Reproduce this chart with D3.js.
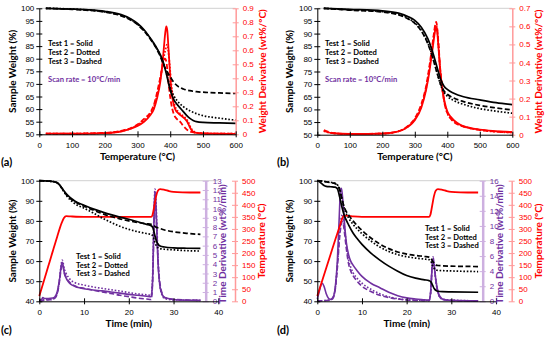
<!DOCTYPE html>
<html><head><meta charset="utf-8">
<script src="https://cdn.jsdelivr.net/npm/d3@7"></script>
<style>body{margin:0;background:#fff}svg{display:block;font-family:Lato,"Open Sans",sans-serif}</style>
</head><body><svg id="c" width="550" height="337"></svg>
<script>
// ---------- DATA ----------
// Panel (a): temperature (°C) vs weight (%) and derivative (wt%/°C)
const aSolidW=[[20,100],[100,99.7],[150,99.4],[200,98.8],[250,97.5],[280,95.8],[300,94],[320,91.5],[340,88],[360,84],[370,81.5],[380,78],[390,73],[400,67.5],[410,64],[420,62],[430,60.5],[440,59],[450,57.5],[460,56.3],[470,55.5],[480,55],[500,54.7],[550,54.5],[600,54.3]];
const aDotW=[[20,100],[100,99.7],[150,99.3],[200,98.6],[250,97.2],[280,95.5],[300,93.7],[320,91.2],[340,87.8],[360,83.8],[370,81.2],[380,77.8],[390,73.5],[400,68.5],[410,65.5],[420,63.5],[440,61],[460,59.3],[480,58.2],[500,57.4],[550,56.4],[600,55.6]];
const aDashW=[[20,100],[100,99.6],[150,99.2],[200,98.5],[250,97],[280,95.3],[300,93.5],[320,91],[340,87.6],[360,83.5],[370,80.8],[380,77.5],[390,75],[400,72.8],[410,70.8],[420,69.4],[440,68],[460,67.3],[480,66.9],[500,66.7],[550,66.4],[600,66.2]];
const aSolidD=[[20,0.005],[100,0.004],[200,0.008],[250,0.02],[280,0.04],[300,0.06],[320,0.09],[340,0.14],[350,0.18],[360,0.26],[370,0.38],[376,0.5],[381,0.63],[385,0.73],[388,0.77],[391,0.74],[395,0.6],[399,0.45],[403,0.33],[408,0.24],[415,0.18],[425,0.15],[435,0.13],[445,0.11],[452,0.09],[458,0.06],[465,0.03],[475,0.012],[500,0.006],[550,0.004],[600,0.003]];
const aDotD=[[20,0.005],[100,0.005],[200,0.009],[250,0.022],[300,0.065],[320,0.1],[340,0.15],[350,0.2],[360,0.28],[370,0.4],[378,0.52],[385,0.6],[390,0.64],[394,0.6],[398,0.5],[403,0.37],[408,0.27],[415,0.2],[425,0.16],[435,0.14],[445,0.12],[455,0.09],[462,0.05],[470,0.025],[480,0.012],[500,0.007],[600,0.004]];
const aDashD=[[20,0.005],[100,0.005],[200,0.01],[250,0.025],[300,0.07],[320,0.11],[340,0.16],[350,0.21],[360,0.3],[370,0.41],[378,0.5],[384,0.54],[388,0.52],[392,0.44],[397,0.32],[403,0.22],[410,0.15],[420,0.11],[430,0.09],[440,0.06],[450,0.035],[460,0.02],[480,0.01],[500,0.006],[600,0.004]];
// Panel (b)
const bSolidW=[[20,100],[100,99.6],[200,99],[250,98.1],[280,96.7],[300,95.2],[320,92.5],[340,88],[350,84.7],[360,80.5],[370,76],[380,71.8],[390,69.2],[400,67.9],[420,66.4],[450,65],[500,63.8],[550,62.7],[600,61.9]];
const bDotW=[[20,100],[100,99.4],[200,98.7],[250,97.6],[280,96],[300,94.3],[320,91.3],[340,86.3],[350,82.8],[360,78.5],[370,73.8],[380,69.5],[390,66.7],[400,65.2],[420,63.5],[450,62],[500,60.3],[550,59.3],[600,58.5]];
const bDashW=[[20,100],[100,99.3],[200,98.5],[250,97.4],[280,95.8],[300,94],[320,91],[340,86],[350,82.5],[360,78.3],[370,73.8],[380,69.8],[390,67.3],[400,66],[420,64.5],[450,63.1],[500,61.6],[550,60.6],[600,59.8]];
const bSolidD=[[20,0.022],[30,0.015],[50,0.008],[100,0.004],[150,0.004],[200,0.006],[250,0.018],[280,0.045],[300,0.08],[320,0.15],[335,0.25],[345,0.35],[352,0.44],[358,0.52],[363,0.58],[366,0.595],[369,0.57],[373,0.48],[378,0.36],[385,0.25],[392,0.18],[400,0.13],[410,0.1],[420,0.08],[440,0.055],[460,0.042],[500,0.028],[550,0.02],[600,0.015]];
const bDotD=[[20,0.02],[30,0.014],[50,0.008],[100,0.004],[200,0.006],[250,0.019],[280,0.047],[300,0.085],[320,0.16],[335,0.26],[345,0.37],[352,0.46],[358,0.54],[363,0.595],[366,0.605],[369,0.58],[373,0.49],[378,0.36],[385,0.25],[392,0.17],[400,0.12],[410,0.09],[420,0.075],[440,0.052],[460,0.04],[500,0.026],[600,0.012]];
const bDashD=[[20,0.025],[30,0.018],[50,0.009],[100,0.004],[200,0.007],[250,0.02],[280,0.05],[300,0.09],[320,0.17],[335,0.27],[345,0.38],[352,0.47],[358,0.55],[363,0.61],[366,0.625],[369,0.59],[373,0.5],[378,0.37],[385,0.25],[392,0.17],[400,0.12],[410,0.09],[420,0.07],[440,0.05],[460,0.04],[500,0.026],[600,0.013]];
// Panel (c): time (min)
const cTemp=[[0,22],[1,83],[2,145],[3,207],[4,268],[5,325],[5.5,345],[6,353],[7,352],[10,350],[20,350],[25,350],[25.3,358],[25.7,395],[26.1,435],[26.5,458],[27,465],[28,462],[29,457],[30,454],[32,452],[36,451]];
const cSolidW=[[0,100],[2,99.8],[3,99.6],[4,99],[4.5,98],[5,96.5],[5.5,95],[6,93.6],[6.5,92.4],[7,91.4],[8,89.8],[10,87.8],[12,86],[14,84.5],[16,83.1],[18,81.9],[20,80.8],[22,79.6],[24,78.3],[25,77.6],[25.4,76.5],[25.8,73],[26.2,69.8],[26.6,68.2],[27,67.5],[28,67],[30,66.6],[33,66.4],[36,66.3]];
const cDotW=[[0,100],[2,99.8],[3,99.6],[4,99],[4.5,98],[5,96.3],[5.5,94.5],[6,92.8],[7,90.3],[8,88.5],[10,86.3],[12,84],[14,81.5],[16,79.3],[18,77.3],[20,75.8],[22,74.6],[24,73.7],[25,73.3],[25.4,72.3],[25.8,69.5],[26.2,67.3],[26.6,66.5],[27,66.2],[28,65.9],[30,65.6],[33,65.2],[36,65]];
const cDashW=[[0,100],[2,99.8],[3,99.6],[4,99],[4.5,98],[5,96.4],[5.5,94.8],[6,93.2],[7,91],[8,89.5],[10,87.3],[12,85.4],[14,83.7],[16,82.2],[18,81],[20,80],[22,79.2],[24,78.6],[25,78.3],[25.5,77.8],[26,77],[27,76.2],[28,75.5],[30,74.6],[33,73.8],[36,73.3]];
const cSolidP=[[0,0.1],[0.5,0.2],[0.8,0.4],[1.2,0.3],[2,0.3],[3,0.35],[3.5,0.5],[4,1],[4.5,2.3],[4.9,3.8],[5.1,4.2],[5.3,3.9],[5.6,3],[6,2.5],[6.5,2.1],[7,1.85],[8,1.6],[9,1.45],[10,1.35],[12,1.22],[14,1.12],[16,1.0],[18,0.88],[20,0.75],[22,0.65],[24,0.55],[25,0.5],[25.3,2],[25.6,8],[25.8,11.8],[26,11],[26.3,7],[26.6,3.5],[27,1.5],[27.5,0.7],[28,0.4],[30,0.2],[33,0.12],[36,0.1]];
const cDotP=[[0,0.05],[1,0.15],[2,0.2],[3,0.25],[3.5,0.4],[4,0.9],[4.5,2.3],[4.9,4],[5.1,4.45],[5.3,4.2],[5.6,3.5],[6,3],[6.5,2.6],[7,2.3],[8,2],[10,1.75],[12,1.55],[14,1.4],[16,1.25],[18,1.1],[20,0.95],[22,0.8],[24,0.7],[25,0.65],[25.3,2.5],[25.6,9],[25.85,12.1],[26.1,10.5],[26.4,6.5],[26.7,3],[27,1.5],[27.5,0.6],[28,0.3],[30,0.15],[36,0.1]];
const cDashP=[[0,0.05],[1,0.1],[2,0.15],[3,0.2],[3.5,0.35],[4,0.8],[4.5,2.1],[4.9,3.6],[5.1,4.0],[5.3,3.8],[5.6,3.1],[6,2.6],[6.5,2.2],[7,1.95],[8,1.65],[10,1.4],[12,1.2],[14,1.0],[16,0.85],[18,0.65],[20,0.5],[22,0.35],[24,0.25],[25,0.2],[25.3,1.8],[25.6,7.5],[25.8,11],[26,10.5],[26.3,7],[26.6,3.8],[27,1.8],[27.5,0.8],[28,0.4],[30,0.2],[36,0.1]];
// Panel (d)
const dTemp=[[0,22],[1,80],[2,138],[3,196],[4,254],[5,310],[5.5,340],[6,355],[7,354],[8,352],[10,350],[20,350],[25,350],[25.3,358],[25.7,395],[26.1,435],[26.5,458],[27,465],[28,462],[29,457],[30,454],[32,452],[36,451]];
const dSolidW=[[0,100],[0.5,99.5],[1,98.5],[1.5,97.6],[2,97.2],[3,97],[4,96.8],[4.5,96],[5,92],[5.5,87],[6,83],[7,78],[8,74],[9,71],[10,68.3],[12,64],[14,60.5],[16,57.5],[18,55],[20,52.8],[22,51.5],[24,50.7],[25,50.3],[25.4,49.8],[25.8,48],[26.2,46.2],[26.6,45.3],[27,45],[28,44.8],[30,44.7],[36,44.5]];
const dDotW=[[0,100],[1,99.8],[2,99.5],[3,99.2],[4,98.7],[4.5,98],[5,96],[5.5,91],[6,86.5],[7,81.5],[8,78.3],[9,75.8],[10,73.6],[12,70],[14,67],[16,64.8],[18,63.2],[20,62.2],[22,61.5],[24,61],[25,60.7],[25.4,60],[25.8,57.8],[26.2,56.3],[26.6,55.6],[27,55.4],[30,55.1],[36,54.8]];
const dDashW=[[0,100],[1,99.8],[2,99.4],[3,99],[4,98.5],[4.5,97.6],[5,95.5],[5.5,91],[6,87],[7,83],[8,80],[9,77.5],[10,75.3],[12,71.5],[14,68.5],[16,66.2],[18,64.5],[20,63.5],[22,62.8],[24,62.3],[25,62],[25.4,61.5],[25.8,60],[26.2,58.7],[26.6,58],[27,57.8],[30,57.5],[36,57.3]];
const dSolidP=[[0,0.3],[0.4,1.2],[0.8,2.1],[1.1,2.4],[1.5,2],[2,1],[2.5,0.4],[3,0.25],[3.5,0.5],[4,1.8],[4.5,5.5],[4.9,11],[5.2,14.8],[5.4,15],[5.7,13.5],[6,11],[6.5,7.8],[7,6.2],[7.5,5.3],[8,4.8],[9,4],[10,3.3],[12,2.4],[14,1.8],[16,1.2],[18,0.75],[20,0.45],[22,0.3],[24,0.2],[25,0.15],[25.4,1.5],[25.7,4.5],[25.9,5.5],[26.1,5],[26.5,3],[27,1.3],[27.5,0.6],[28,0.3],[30,0.12],[36,0.05]];
const dDotP=[[0,0.05],[2,0.12],[3,0.2],[3.5,0.45],[4,1.6],[4.5,4.8],[5,9],[5.4,11.2],[5.7,11.5],[6,10.3],[6.5,7.5],[7,5.5],[7.5,4.5],[8,3.8],[9,3],[10,2.4],[12,1.6],[14,1],[16,0.6],[18,0.35],[20,0.2],[22,0.15],[25,0.1],[25.4,1.2],[25.7,4.5],[25.9,5.6],[26.1,5],[26.5,2.8],[27,1.1],[27.5,0.5],[28,0.25],[36,0.05]];
const dDashP=[[0,0.05],[2,0.1],[3,0.15],[3.5,0.4],[4,1.5],[4.5,4.5],[5,8.5],[5.4,10.3],[5.7,10.6],[6,9.5],[6.5,7],[7,5],[7.5,4],[8,3.4],[9,2.6],[10,2],[12,1.3],[14,0.8],[16,0.5],[18,0.3],[20,0.18],[22,0.12],[25,0.08],[25.4,1.3],[25.7,4.8],[25.9,5.9],[26.1,5.2],[26.5,3],[27,1.2],[27.5,0.5],[28,0.25],[30,0.1],[36,0.05]];
// Tick labels
const tempTicks=[0,100,200,300,400,500,600];
const timeTicks=[0,10,20,30,40];
const wTicksAB=[50,55,60,65,70,75,80,85,90,95,100];
const wTicksCD=[40,50,60,70,80,90,100];
const dTicksA=[0,0.1,0.2,0.3,0.4,0.5,0.6,0.7,0.8,0.9];
const dTicksB=[0,0.1,0.2,0.3,0.4,0.5,0.6,0.7];
const pTicksC=[0,1,2,3,4,5,6,7,8,9,10,11,12,13];
const pTicksD=[0,2,4,6,8,10,12,14,16];
const tTicksCD=[0,50,100,150,200,250,300,350,400,450,500];
const legendLines=["Test 1 = Solid","Test 2 = Dotted","Test 3 = Dashed"];

// ---------- DRAW ----------
const svg=d3.select("#c");
const RED="#ff0000",PUR="#7030a0",RAX="#ff9a9a",PAX="#cdb0e0";
const DOT="1.6,1.8",DASH="5,2.5";
const line=(x,y)=>d3.line().x(d=>x(d[0])).y(d=>y(d[1])).curve(d3.curveMonotoneX);

function crossTicks(g,horiz){
  g.selectAll(".tick line").attr(horiz?"y1":"x1",-3).attr(horiz?"y2":"x2",3);
}
function axisL(x0,y,ticks,color,lineColor,fmt,side,lw){
  const ax=(side==="left"?d3.axisLeft(y):d3.axisRight(y)).tickValues(ticks).tickSize(0).tickPadding(side==="left"?5:7).tickFormat(fmt||d3.format("d"));
  const g=svg.append("g").attr("transform",`translate(${x0},0)`).call(ax);
  g.select(".domain").attr("stroke",lineColor).attr("stroke-width",lw||1);
  g.selectAll(".tick line").attr("stroke",lineColor);
  crossTicks(g,false);
  g.selectAll("text").attr("fill",color).attr("font-size",8);
  return g;
}
function axisB(x,y0,ticks){
  const g=svg.append("g").attr("transform",`translate(0,${y0})`).call(d3.axisBottom(x).tickValues(ticks).tickSize(0).tickPadding(8).tickFormat(d3.format("d")));
  g.select(".domain").attr("stroke","#000");
  g.selectAll(".tick line").attr("stroke","#000");
  crossTicks(g,true);
  g.selectAll("text").attr("fill","#000").attr("font-size",8);
}
function vtitle(x,y,txt,color){
  svg.append("text").attr("transform",`translate(${x},${y}) rotate(-90)`).attr("text-anchor","middle")
    .attr("font-size",10).attr("font-weight",700).attr("fill",color).text(txt);
}
function htitle(x,y,txt,size,anchor){
  svg.append("text").attr("x",x).attr("y",y).attr("text-anchor",anchor||"middle").attr("font-size",size||10).attr("font-weight",700).attr("fill","#000").text(txt);
}
function series(x,y,data,color,dash,w){
  svg.append("path").datum(data).attr("d",line(x,y)).attr("fill","none").attr("stroke",color)
    .attr("stroke-width",w).attr("stroke-dasharray",dash||null).attr("stroke-linejoin","round");
}
function legend(x,y,dy,scan){
  legendLines.forEach((t,i)=>svg.append("text").attr("x",x).attr("y",y+i*dy).attr("font-size",7.6).attr("font-weight",700).attr("fill","#000").text(t));
  if(scan) svg.append("text").attr("x",x).attr("y",y+2*dy+18).attr("font-size",7.6).attr("font-weight",700).attr("fill",PUR).text("Scan rate = 10°C/min");
}

// Panel (a) and (b)
function tempPanel(o){
  const x=d3.scaleLinear().domain([0,600]).range([o.x0,o.x1]);
  const yL=d3.scaleLinear().domain([50,100]).range([o.yb,o.yt]);
  const yR=d3.scaleLinear().domain([0,o.dmax]).range([o.yb,o.yt]);
  svg.append("line").attr("x1",o.x0).attr("x2",o.x1).attr("y1",o.yt).attr("y2",o.yt).attr("stroke","#d0d0d0");
  series(x,yR,o.dS,RED,null,1.8);series(x,yR,o.dD,RED,DOT,1.8);series(x,yR,o.dH,RED,DASH,1.8);
  series(x,yL,o.wS,"#000",null,1.7);series(x,yL,o.wD,"#000",DOT,1.7);series(x,yL,o.wH,"#000",DASH,1.7);
  axisL(o.x0,yL,wTicksAB,"#000","#000",null,"left");
  axisL(o.x1,yR,o.dTicks,RED,RAX,v=>v===0?"0":d3.format(".1f")(v),"right",1.5);
  axisB(x,o.yb,tempTicks);
  vtitle(o.ylx,(o.yt+o.yb)/2,"Sample Weight (%)","#000");
  vtitle(o.yrx,(o.yt+o.yb)/2,"Weight Derivative (wt%/°C)",RED);
  htitle((o.x0+o.x1)/2,160,"Temperature (°C)");
  htitle(o.lab[0],o.lab[1],o.lab[2],11,"start");
  legend(o.lgx,46,9.2,true);
}
tempPanel({x0:39.3,x1:235.7,yt:8.3,yb:134.3,dmax:0.9,dTicks:dTicksA,wS:aSolidW,wD:aDotW,wH:aDashW,dS:aSolidD,dD:aDotD,dH:aDashD,ylx:16,yrx:266,lab:[1,166,"(a)"],lgx:48});
tempPanel({x0:317.3,x1:512.3,yt:8.3,yb:134.7,dmax:0.7,dTicks:dTicksB,wS:bSolidW,wD:bDotW,wH:bDashW,dS:bSolidD,dD:bDotD,dH:bDashD,ylx:293,yrx:542,lab:[277,166,"(b)"],lgx:325});

// Panel (c) and (d)
function timePanel(o){
  const x=d3.scaleLinear().domain([0,40]).range([o.x0,o.x1]);
  const yL=d3.scaleLinear().domain([40,100]).range([o.yb,o.yt]);
  const yP=d3.scaleLinear().domain([0,o.pmax]).range([o.yb,o.yt]);
  const yT=d3.scaleLinear().domain([0,500]).range([o.yb,o.yt]);
  svg.append("line").attr("x1",o.x0).attr("x2",o.x1).attr("y1",o.yt).attr("y2",o.yt).attr("stroke","#d0d0d0");
  series(x,yP,o.pD,PUR,DOT,1.6);series(x,yP,o.pH,PUR,DASH,1.6);series(x,yP,o.pS,PUR,null,1.6);
  series(x,yT,o.temp,RED,null,1.8);
  series(x,yL,o.wS,"#000",null,1.7);series(x,yL,o.wD,"#000",DOT,1.7);series(x,yL,o.wH,"#000",DASH,1.7);
  axisL(o.x0,yL,wTicksCD,"#000","#000",null,"left");
  axisL(o.px,yP,o.pTicks,PUR,PAX,null,"right",2.5);
  axisL(o.tx,yT,tTicksCD,RED,RAX,null,"right",1.5);
  axisB(x,o.yb,timeTicks);
  vtitle(o.ylx,(o.yt+o.yb)/2,"Sample Weight (%)","#000");
  vtitle(o.ptx,(o.yt+o.yb)/2+3,"Time Derivative (wt%/min)",PUR);
  vtitle(o.ttx,(o.yt+o.yb)/2,"Temperature (°C)",RED);
  htitle((o.x0+o.x1)/2,327,"Time (min)");
  htitle(o.lab[0],o.lab[1],o.lab[2],11,"start");
  legend(o.lgx,o.lgy,8.7,false);
}
timePanel({x0:39.3,x1:218.3,yt:180.7,yb:301.3,pmax:13,pTicks:pTicksC,px:205.7,tx:235,temp:cTemp,wS:cSolidW,wD:cDotW,wH:cDashW,pS:cSolidP,pD:cDotP,pH:cDashP,ylx:16,ptx:226,ttx:265,lab:[1,334,"(c)"],lgx:76,lgy:259});
timePanel({x0:317.3,x1:496,yt:180.7,yb:301.3,pmax:16,pTicks:pTicksD,px:482.7,tx:511.7,temp:dTemp,wS:dSolidW,wD:dDotW,wH:dDashW,pS:dSolidP,pD:dDotP,pH:dDashP,ylx:293,ptx:503,ttx:542,lab:[277,334,"(d)"],lgx:425,lgy:231});
</script></body></html>
